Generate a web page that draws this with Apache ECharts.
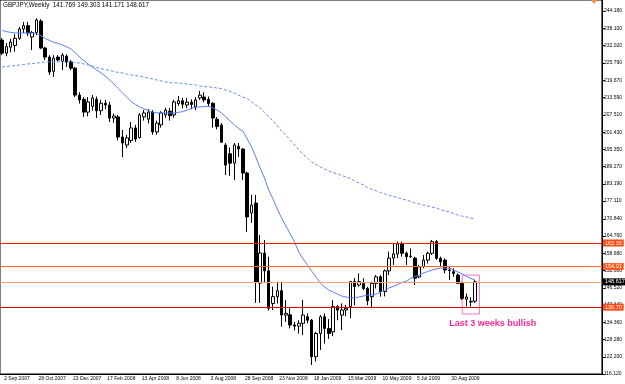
<!DOCTYPE html>
<html>
<head>
<meta charset="utf-8">
<script src="https://cdn.jsdelivr.net/npm/echarts@6/dist/echarts.min.js"></script>
<style>
  html, body { margin: 0; padding: 0; background: #fff; }
  #chart { width: 625px; height: 384px; }
</style>
</head>
<body>
<div id="chart"></div>
<script>
// GBPJPY weekly bars, first bar = week of 2 Sep 2007
const symbolName = "GBPJPY,Weekly";
const firstWeek = [2007, 8, 2];
const emptyWeeks = 29; // chart shift on the right

const opens = [233.9,229.3,231.4,232.0,234.5,237.8,239.0,235.0,236.6,240.6,
  231.1,227.9,222.9,227.9,226.4,228.2,226.2,224.0,214.5,213.0,
  208.5,210.5,213.0,209.0,211.6,211.0,206.4,206.8,199.7,196.9,
  198.5,202.9,199.5,206.8,206.0,208.5,201.5,204.0,207.5,208.8,
  207.5,211.5,212.5,211.0,212.0,210.3,213.5,213.8,213.0,211.6,
  206.0,203.9,196.9,193.8,190.5,196.4,195.5,187.0,172.9,176.4,
  148.2,158.8,152.5,141.0,143.4,145.5,136.9,137.0,133.4,133.0,
  134.0,136.3,135.1,122.2,130.4,136.3,132.2,131.0,139.9,136.9,
  138.7,139.9,148.7,147.5,148.1,146.3,143.4,148.1,150.4,145.2,
  152.5,157.0,158.5,162.2,158.7,157.5,157.0,150.4,154.0,156.3,
  158.7,162.8,156.9,156.3,152.8,152.2,151.0,148.1,142.5,141.5,
  141.769];
const highs = [234.6,232.9,234.3,236.0,238.5,240.3,240.3,237.1,241.6,241.3,
  231.5,228.6,228.6,228.6,229.3,228.9,226.9,224.4,215.5,213.8,
  213.8,214.5,214.0,212.8,212.8,212.1,208.0,207.5,202.2,200.4,
  205.0,204.0,208.2,209.2,209.5,209.2,205.5,208.8,210.0,210.0,
  212.8,214.2,213.5,213.5,213.0,213.8,216.0,215.5,214.0,212.0,
  206.8,204.6,197.6,196.0,197.6,197.6,195.8,187.5,179.3,179.3,
  165.1,163.4,157.5,146.9,148.7,148.7,142.2,139.3,134.5,135.1,
  142.2,137.5,135.5,131.0,136.9,137.5,135.5,142.2,140.4,141.0,
  140.5,148.9,150.0,151.6,149.9,146.9,148.7,151.0,151.0,153.0,
  159.3,162.2,162.8,162.8,159.3,160.4,157.5,154.6,158.1,159.3,
  163.4,163.4,157.5,156.9,154.0,153.4,151.6,148.7,144.5,143.2,
  149.303];
const lows = [228.6,228.2,229.6,229.8,234.0,236.4,235.3,230.4,235.7,230.8,
  226.9,221.6,220.9,226.2,223.3,224.4,223.3,213.8,211.5,206.8,
  207.0,209.0,206.4,207.5,209.5,205.0,204.7,198.5,192.6,195.8,
  197.6,198.0,199.2,205.5,204.5,200.5,200.5,203.0,206.5,205.5,
  206.5,210.7,209.8,209.9,209.5,209.2,212.8,212.0,210.5,203.0,
  202.4,197.6,186.3,186.0,184.5,192.7,184.5,166.2,169.4,141.2,
  141.2,148.6,138.5,138.7,141.0,132.8,134.5,132.2,131.5,130.4,
  129.9,134.0,119.3,120.5,124.6,126.9,128.5,129.5,135.1,131.6,
  136.5,135.8,140.4,146.9,145.7,140.4,139.3,146.3,143.4,143.5,
  151.0,154.6,157.0,157.5,154.6,157.0,147.5,149.9,153.4,155.1,
  158.1,156.3,154.0,151.6,149.3,150.4,148.0,142.2,140.0,139.9,
  141.171];
const closes = [229.3,231.6,233.2,234.5,237.8,239.0,236.4,236.6,241.0,231.1,
  227.9,222.6,227.5,226.9,228.6,226.2,224.0,214.5,212.8,208.5,
  212.1,213.5,209.0,211.6,211.0,206.4,207.1,199.7,197.6,199.4,
  202.9,199.0,207.5,208.2,208.5,201.5,204.6,208.2,209.2,207.2,
  212.1,212.5,211.3,212.0,211.2,212.8,214.5,212.8,211.5,206.4,
  203.4,197.9,189.8,190.5,196.9,195.5,187.0,171.5,175.7,148.6,
  158.8,152.5,139.3,143.4,145.5,136.9,137.5,133.4,133.0,134.0,
  136.9,135.1,122.2,130.4,136.3,132.2,130.4,139.9,138.7,138.7,
  139.3,148.7,147.0,148.7,146.3,142.0,148.1,150.4,145.2,152.5,
  157.0,158.5,162.0,158.7,157.5,157.7,149.9,153.9,156.3,158.7,
  162.8,156.9,155.7,152.8,152.6,151.6,148.1,142.8,143.3,141.769,
  148.617];

// moving averages
const maFast = [237.3,236.9,236.6,236.4,236.4,236.4,236.4,236.4,236.2,235.5,
  234.5,233.8,233.1,232.7,232.2,231.5,230.8,229.5,227.9,226.7,
  225.5,224.4,223.3,222.3,221.2,219.8,218.4,216.8,215.2,213.8,
  212.2,211.2,210.3,209.6,209.1,208.5,208.2,208.2,208.2,208.2,
  208.2,208.4,208.7,209.2,209.8,210.3,210.3,210.5,210.5,210.0,
  209.2,208.2,206.8,205.4,204.0,202.7,201.8,199.0,196.2,192.7,
  188.8,185.3,181.0,177.8,174.3,171.1,168.3,165.5,162.7,159.1,
  156.7,154.6,152.4,150.3,148.2,146.8,145.7,145.0,144.3,143.6,
  143.3,142.9,142.9,143.3,143.6,144.0,144.0,144.3,145.0,145.7,
  146.5,147.0,147.7,148.4,148.9,149.8,150.5,151.0,151.7,152.3,
  152.8,153.2,153.5,153.5,153.5,152.8,152.1,151.4,150.5,149.8,
  149.3];
const maSlow = [224.4,224.6,224.8,224.9,225.1,225.3,225.5,225.6,225.8,226.0,
  226.2,226.2,226.2,226.2,226.2,226.2,226.2,226.0,225.8,225.5,
  225.1,224.8,224.2,223.9,223.5,223.2,222.8,222.5,222.3,221.9,
  221.6,221.4,221.1,220.9,220.5,220.2,219.8,219.5,219.1,218.9,
  218.8,218.8,218.6,218.4,218.2,218.1,217.7,217.5,217.4,217.2,
  217.0,216.8,216.3,215.8,215.2,214.5,213.8,213.3,212.1,211.0,
  210.0,208.5,206.8,205.4,203.6,201.8,200.4,198.7,196.9,195.1,
  193.7,192.3,190.9,190.0,189.1,188.4,187.7,187.2,186.7,186.1,
  185.6,185.1,184.2,183.5,182.8,181.9,181.2,180.7,180.1,179.6,
  179.1,178.7,178.4,177.8,177.5,177.0,176.4,176.1,175.7,175.4,
  175.0,174.7,174.1,173.6,173.3,172.7,172.2,171.8,171.5,171.1,
  170.8];

// right price scale
const priceTicks = [116.12,122.2,128.28,134.36,140.44,146.52,152.6,158.68,164.76,170.84,
  177.11,183.19,189.27,195.35,201.43,207.51,213.59,219.67,225.79,232.02,238.1,244.18];
const priceMin = 116.12, priceMax = 248.04;

// horizontal levels with their price tags
const levels = [162.33, 154.01, 148.617, 139.70];
const levelTags = ["162.33", "154.01", "148.617", "139.70"];
const levelColors = ["#ff1a00", "#ff6a30", "#ff9c70", "#e80000"];
const tagColors = ["#ff4a14", "#ff5a1e", "#000000", "#ff4a14"];

// highlighted last weeks
const boxWeeks = [107, 111];
const boxPrices = [137.3, 151.0];
const boxNote = "Last 3 weeks bullish";

const MONTHS = ["Jan","Feb","Mar","Apr","May","Jun","Jul","Aug","Sep","Oct","Nov","Dec"];
const nBars = opens.length;
const weeks = [];
for (let i = 0; i < nBars + emptyWeeks; i++) {
  const d = new Date(Date.UTC(firstWeek[0], firstWeek[1], firstWeek[2] + 7 * i));
  weeks.push(d.getUTCDate() + " " + MONTHS[d.getUTCMonth()] + " " + d.getUTCFullYear());
}

const FONT = "'Liberation Sans', Arial, sans-serif";
const showTick = (idx) => idx % 8 === 0 && idx < nBars;
const last = nBars - 1;

// one empty series per level so each line keeps its own colour
const levelSeries = levels.map((v, i) => ({
  type: "line",
  data: [],
  symbol: "none",
  color: levelColors[i],
  z: 4,
  markLine: {
    silent: true,
    symbol: ["none", "none"],
    lineStyle: { color: levelColors[i], width: 1, type: "solid", opacity: 1 },
    label: {
      show: true, position: "end", distance: 1,
      formatter: levelTags[i],
      backgroundColor: tagColors[i], color: "#fff",
      padding: [1, 2, 0, 2], fontSize: 5.5, fontFamily: FONT
    },
    data: [{ yAxis: v }]
  }
}));

const chart = echarts.init(document.getElementById("chart"));
chart.setOption({
  animation: false,
  backgroundColor: "#fff",
  title: {
    text: symbolName + "  " + [opens[last], highs[last], lows[last], closes[last]].map(v => v.toFixed(3)).join(" "),
    left: 3,
    top: 2,
    padding: 0,
    textStyle: { fontSize: 6.3, fontWeight: "normal", color: "#000", fontFamily: FONT }
  },
  grid: {
    left: 0, right: 22, top: 0, bottom: 10,
    show: true, borderColor: "#000", borderWidth: 1, backgroundColor: "#fff"
  },
  xAxis: {
    type: "category",
    data: weeks,
    boundaryGap: true,
    axisLine: { lineStyle: { color: "#000", width: 1 } },
    axisTick: { alignWithLabel: true, interval: showTick, length: 3, lineStyle: { color: "#000" } },
    axisLabel: {
      interval: showTick, align: "left", margin: 2, padding: [0, 0, 0, 2],
      fontSize: 5, color: "#000", fontFamily: FONT
    },
    splitLine: { show: false }
  },
  yAxis: {
    type: "value",
    position: "right",
    min: priceMin,
    max: priceMax,
    axisLine: { show: true, lineStyle: { color: "#000", width: 1 } },
    axisTick: { show: true, customValues: priceTicks, length: 3, lineStyle: { color: "#000" } },
    axisLabel: {
      customValues: priceTicks, margin: 2, fontSize: 5, color: "#000", fontFamily: FONT,
      formatter: v => v.toFixed(3)
    },
    splitLine: { show: false }
  },
  graphic: [{
    // chart shift marker at the top
    type: "polygon",
    right: 28,
    top: 0,
    shape: { points: [[0, 0], [6, 0], [3, 4]] },
    style: { fill: "#ff8a3a" }
  }],
  series: [
    {
      type: "candlestick",
      data: opens.map((o, i) => [o, closes[i], lows[i], highs[i]]),
      barWidth: 3,
      itemStyle: { color: "#fff", color0: "#000", borderColor: "#000", borderColor0: "#000", borderWidth: 1 }
    },
    {
      type: "line",
      data: maFast,
      symbol: "none",
      lineStyle: { color: "#5a7ff0", width: 1 },
      z: 3
    },
    {
      type: "line",
      data: maSlow,
      symbol: "none",
      lineStyle: { color: "#6a8cf2", width: 1, type: [3, 2] },
      z: 3
    },
    ...levelSeries,
    {
      type: "line",
      data: [],
      symbol: "none",
      z: 4,
      markArea: {
        silent: true,
        itemStyle: { color: "rgba(0,0,0,0)", borderColor: "#ff6ec7", borderWidth: 1 },
        label: {
          show: true, position: "bottom", offset: [22, 0],
          formatter: boxNote, color: "#ff2a8d", fontSize: 9, fontWeight: "bold",
          fontFamily: FONT
        },
        data: [[
          { xAxis: weeks[boxWeeks[0]], yAxis: boxPrices[0] },
          { xAxis: weeks[boxWeeks[1]], yAxis: boxPrices[1] }
        ]]
      }
    }
  ]
});
</script>
</body>
</html>
